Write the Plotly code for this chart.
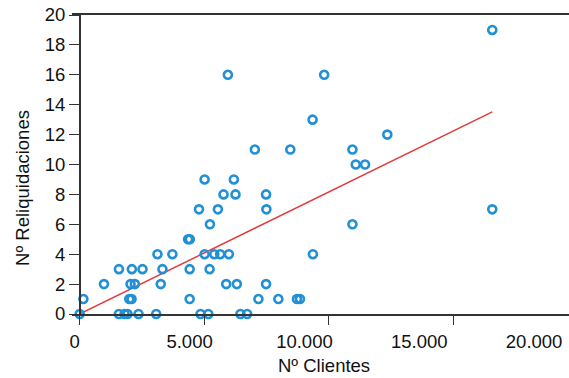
import numpy as np
import plotly.graph_objects as go

# Nº de clientes por punto de servicio y nº de reliquidaciones
clientes = [
    16560,
    5947, 9813,
    9347,
    12347,
    7030, 8453, 10947,
    11080, 11453,
    5013, 6187,
    5773, 6253, 7480,
    4787, 5547, 7493, 16560,
    5227, 10947,
    4350, 4420,
    3120, 3720, 5013, 5400, 5640, 5987, 9360,
    1573, 2093, 2520, 3320, 4413, 5213,
    973, 2040, 2213, 3253, 5880, 6307, 7480,
    147, 1990, 2080, 4413, 7173, 7973, 8720, 8840,
    0, 1573, 1800, 1920, 2360, 3070, 4850, 5160, 6450, 6720,
]
reliquidaciones = (
    [19] + [16] * 2 + [13] + [12] + [11] * 3 + [10] * 2 + [9] * 2 + [8] * 3
    + [7] * 4 + [6] * 2 + [5] * 2 + [4] * 7 + [3] * 6 + [2] * 7 + [1] * 8 + [0] * 10
)

x_tick_vals = [0, 5000, 10000, 15000, 20000]
x_tick_text = ["0", "5.000", "10.000", "15.000", "20.000"]
y_tick_vals = list(range(0, 21, 2))

x = np.array(clientes, dtype=float)
y = np.array(reliquidaciones, dtype=float)
b1, b0 = np.polyfit(x, y, 1)
x_fit = np.array([x.min(), x.max()])
y_fit = b0 + b1 * x_fit

FONT = "Liberation Sans, Arial, sans-serif"
W, H = 569, 378
fig = go.Figure()

fig.add_trace(go.Scatter(
    x=x_fit, y=y_fit, mode="lines",
    line=dict(color="#e23b3b", width=1.5),
    hoverinfo="skip", showlegend=False, cliponaxis=False,
))
fig.add_trace(go.Scatter(
    x=x, y=y, mode="markers",
    marker=dict(symbol="circle-open", size=8, color="#2190d6",
                line=dict(width=2.6, color="#2190d6")),
    showlegend=False, cliponaxis=False,
))
# empty carrier trace so the label axis (xaxis2) is rendered
fig.add_trace(go.Scatter(
    x=[x_tick_vals[0], x_tick_vals[-1]], y=[None, None],
    xaxis="x2", yaxis="y", mode="markers",
    hoverinfo="skip", showlegend=False,
))

left_px = 70
axis_px = 78
fig.update_layout(
    width=W, height=H,
    margin=dict(l=0, r=0, t=15, b=64),
    paper_bgcolor="white", plot_bgcolor="white",
    font=dict(family=FONT, size=18.5, color="#111"),
    xaxis=dict(
        domain=[left_px / W, 1],
        range=[(left_px - axis_px) * 40, (W - axis_px) * 40],
        tickvals=x_tick_vals, showticklabels=False,
        ticks="outside", ticklen=9, tickwidth=1.2, tickcolor="#333",
        showline=True, linecolor="#333", linewidth=1.5, mirror=True,
        showgrid=False, zeroline=False,
    ),
    xaxis2=dict(
        overlaying="x", anchor="y", side="bottom",
        range=[-130, 21519],
        tickvals=x_tick_vals, ticktext=x_tick_text,
        ticks="", showline=False, showgrid=False, zeroline=False,
        ticklabelstandoff=14,
    ),
    yaxis=dict(
        anchor="free", position=axis_px / W,
        range=[0, 20], tickvals=y_tick_vals,
        ticks="outside", ticklen=10, tickwidth=1.2, tickcolor="#333",
        showline=True, linecolor="#333", linewidth=1.5,
        showgrid=False, zeroline=False,
    ),
    annotations=[
        dict(text="Nº Reliquidaciones", textangle=-90,
             xref="paper", yref="paper", x=20 / W, y=(314 - 188) / 299,
             xanchor="center", yanchor="middle", showarrow=False),
        dict(text="Nº Clientes",
             xref="paper", yref="paper", x=323 / W, y=(314 - 365) / 299,
             xanchor="center", yanchor="middle", showarrow=False),
    ],
)

fig.write_html("out.html")
